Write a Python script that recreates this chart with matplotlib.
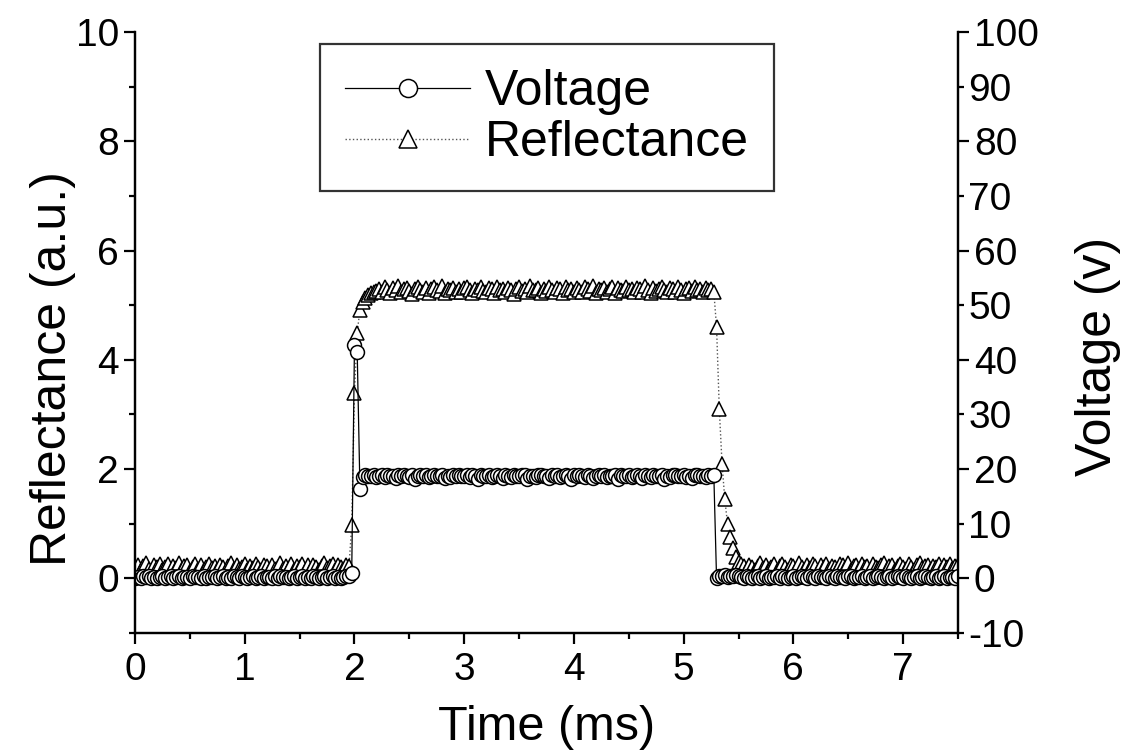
import numpy as np
import matplotlib
matplotlib.use("Agg")
import matplotlib.pyplot as plt
from matplotlib.ticker import MultipleLocator, FixedLocator

plt.rcParams["font.family"] = ["Liberation Sans", "DejaVu Sans"]

# sampling step of the scope trace (ms)
DT = 0.025

# reflectance (a.u.), left axis
refl_base = [
    0.20, 0.25, 0.15, 0.22, 0.28, 0.18, 0.12, 0.24, 0.20, 0.27,
    0.16, 0.21, 0.26, 0.14, 0.23, 0.19, 0.28, 0.17, 0.22, 0.25,
    0.13, 0.20, 0.26, 0.18, 0.24, 0.15, 0.21, 0.27, 0.19, 0.23,
    0.16, 0.25, 0.20, 0.14, 0.22, 0.28, 0.18, 0.24, 0.17, 0.21,
    0.26, 0.15, 0.23, 0.19, 0.27, 0.20, 0.16, 0.24, 0.22, 0.13,
    0.25, 0.18, 0.21, 0.28, 0.17, 0.23, 0.19, 0.26, 0.15, 0.22,
    0.20, 0.27, 0.14, 0.24, 0.18, 0.25, 0.21, 0.16, 0.23, 0.28,
    0.19, 0.22, 0.26, 0.15, 0.24, 0.20, 0.17, 0.25, 0.22,
]
refl_rise = [0.97, 3.40, 4.50, 4.92, 5.05, 5.13, 5.18, 5.22, 5.24, 5.26]
refl_on = [
    5.30, 5.25, 5.33, 5.28, 5.22, 5.31, 5.27, 5.35, 5.24, 5.29,
    5.32, 5.26, 5.21, 5.30, 5.34, 5.27, 5.25, 5.31, 5.23, 5.29,
    5.33, 5.28, 5.26, 5.35, 5.22, 5.30, 5.27, 5.32, 5.25, 5.29,
    5.24, 5.31, 5.34, 5.27, 5.22, 5.30, 5.28, 5.33, 5.26, 5.25,
    5.31, 5.29, 5.23, 5.34, 5.27, 5.30, 5.25, 5.32, 5.28, 5.21,
    5.29, 5.33, 5.26, 5.30, 5.24, 5.35, 5.28, 5.27, 5.31, 5.23,
    5.30, 5.26, 5.33, 5.28, 5.25, 5.32, 5.29, 5.22, 5.34, 5.27,
    5.30, 5.25, 5.31, 5.28, 5.24, 5.33, 5.29, 5.26, 5.35, 5.23,
    5.30, 5.27, 5.32, 5.25, 5.29, 5.34, 5.22, 5.31, 5.28, 5.26,
    5.33, 5.27, 5.30, 5.24, 5.32, 5.29, 5.25, 5.35, 5.28, 5.23,
    5.31, 5.26, 5.30, 5.33, 5.27, 5.24, 5.32, 5.29, 5.25, 5.34,
    5.28, 5.22, 5.30, 5.31, 5.26, 5.33, 5.27, 5.29, 5.24, 5.32,
    5.28, 5.30, 5.25,
]
refl_fall = [4.60, 3.10, 2.10, 1.45, 1.00, 0.75, 0.55, 0.40, 0.30]
refl_after = [
    0.27, 0.22, 0.18, 0.25, 0.20, 0.15, 0.23, 0.28, 0.19, 0.24,
    0.17, 0.21, 0.26, 0.14, 0.22, 0.27, 0.20, 0.16, 0.25, 0.23,
    0.18, 0.28, 0.21, 0.15, 0.24, 0.19, 0.26, 0.22, 0.13, 0.25,
    0.20, 0.27, 0.17, 0.23, 0.21, 0.16, 0.26, 0.24, 0.19, 0.28,
    0.15, 0.22, 0.25, 0.18, 0.27, 0.20, 0.23, 0.14, 0.26, 0.21,
    0.19, 0.24, 0.28, 0.17, 0.22, 0.25, 0.16, 0.23, 0.27, 0.20,
    0.18, 0.26, 0.21, 0.15, 0.24, 0.28, 0.19, 0.22, 0.25, 0.17,
    0.23, 0.20, 0.27, 0.16, 0.24, 0.21, 0.26, 0.18, 0.22, 0.25,
]

# applied voltage (V), right axis
volt_base = [
    0.1, 0.3, 0.0, 0.4, 0.2, 0.5, 0.1, 0.3, 0.0, 0.2,
    0.4, 0.1, 0.3, 0.5, 0.0, 0.2, 0.4, 0.1, 0.3, 0.2,
    0.0, 0.5, 0.2, 0.3, 0.1, 0.4, 0.0, 0.2, 0.3, 0.5,
    0.1, 0.2, 0.4, 0.0, 0.3, 0.1, 0.5, 0.2, 0.0, 0.4,
    0.3, 0.1, 0.2, 0.5, 0.0, 0.3, 0.4, 0.1, 0.2, 0.3,
    0.0, 0.4, 0.1, 0.5, 0.2, 0.3, 0.0, 0.2, 0.4, 0.1,
    0.3, 0.5, 0.0, 0.2, 0.1, 0.4, 0.3, 0.0, 0.2, 0.5,
    0.1, 0.3, 0.4, 0.0, 0.2, 0.1, 0.3, 0.5, 0.4,
]
volt_rise = [1.0, 42.7, 41.4, 16.3, 18.6, 18.9, 18.7, 18.8, 19.0, 18.6]
volt_on = [
    18.8, 18.9, 18.6, 19.0, 18.7, 18.8, 18.3, 18.9, 18.7, 19.0,
    18.8, 18.6, 18.9, 18.2, 18.8, 19.0, 18.7, 18.9, 18.6, 18.8,
    19.0, 18.7, 18.8, 18.9, 18.3, 18.8, 18.6, 19.0, 18.7, 18.9,
    18.8, 18.7, 19.0, 18.6, 18.9, 18.8, 18.2, 18.9, 18.7, 18.8,
    19.0, 18.6, 18.8, 18.9, 18.7, 18.3, 19.0, 18.8, 18.6, 18.9,
    18.7, 18.8, 19.0, 18.9, 18.2, 18.7, 18.8, 18.6, 19.0, 18.9,
    18.8, 18.7, 18.3, 18.9, 18.8, 19.0, 18.6, 18.7, 18.9, 18.8,
    18.2, 18.9, 18.7, 19.0, 18.8, 18.6, 18.9, 18.8, 18.3, 18.7,
    19.0, 18.8, 18.9, 18.6, 18.7, 18.8, 19.0, 18.2, 18.9, 18.8,
    18.7, 18.9, 18.6, 18.8, 19.0, 18.7, 18.3, 18.9, 18.8, 18.6,
    19.0, 18.8, 18.7, 18.9, 18.2, 18.8, 18.6, 19.0, 18.9, 18.7,
    18.8, 18.9, 18.6, 18.8, 18.3, 18.9, 19.0, 18.7, 18.8, 18.6,
    18.9, 18.8, 19.0,
]
volt_fall = [0.0, 0.5, 0.4, 0.6, 0.3, 0.5, 0.4, 0.6, 0.5]
volt_after = [
    0.3, 0.1, 0.4, 0.2, 0.0, 0.3, 0.5, 0.1, 0.2, 0.4,
    0.0, 0.3, 0.2, 0.5, 0.1, 0.4, 0.3, 0.0, 0.2, 0.5,
    0.1, 0.3, 0.4, 0.2, 0.0, 0.5, 0.3, 0.1, 0.4, 0.2,
    0.3, 0.0, 0.5, 0.2, 0.1, 0.4, 0.3, 0.2, 0.0, 0.5,
    0.4, 0.1, 0.3, 0.2, 0.5, 0.0, 0.3, 0.4, 0.1, 0.2,
    0.5, 0.3, 0.0, 0.2, 0.4, 0.1, 0.3, 0.5, 0.2, 0.0,
    0.4, 0.2, 0.1, 0.3, 0.5, 0.0, 0.2, 0.4, 0.3, 0.1,
    0.2, 0.5, 0.0, 0.3, 0.4, 0.1, 0.2, 0.3, 0.0, 0.4,
]

reflectance = np.array(refl_base + refl_rise + refl_on + refl_fall + refl_after)
voltage = np.array(volt_base + volt_rise + volt_on + volt_fall + volt_after)
time_ms = np.arange(len(reflectance)) * DT

fig = plt.figure(figsize=(11.27, 7.52), dpi=100)
ax = fig.add_axes([0.1198, 0.1582, 0.7302, 0.7992])
ax2 = ax.twinx()

l_refl, = ax.plot(time_ms, reflectance, linestyle=":", color="#555555", lw=1.0,
                  marker="^", ms=10.5, mfc="white", mec="black", mew=1.1)
l_volt, = ax2.plot(time_ms, voltage, linestyle="-", color="black", lw=0.9,
                   marker="o", ms=10, mfc="white", mec="black", mew=1.1)

ax.set_xlim(0, 7.5)
ax.set_ylim(-1, 10)
ax2.set_ylim(-10, 100)

ax.xaxis.set_major_locator(MultipleLocator(1))
ax.xaxis.set_minor_locator(MultipleLocator(0.5))
ax.yaxis.set_major_locator(FixedLocator([0, 2, 4, 6, 8, 10]))
ax.yaxis.set_minor_locator(FixedLocator([-1, 1, 3, 5, 7, 9]))
ax2.yaxis.set_major_locator(FixedLocator([0, 20, 40, 60, 80, 100]))
ax2.yaxis.set_minor_locator(FixedLocator([-10, 10, 30, 50, 70, 90]))
ax2.yaxis.set_minor_formatter(plt.FuncFormatter(lambda v, p: f"{v:.0f}"))

for a in (ax, ax2):
    a.spines["top"].set_visible(False)
    for s in a.spines.values():
        s.set_linewidth(1.6)
    a.tick_params(which="major", direction="out", length=8, width=1.6, labelsize=28)
    a.tick_params(which="minor", direction="out", length=4, width=1.6, labelsize=28)
ax.tick_params(axis="y", which="minor", labelleft=False)
ax.tick_params(axis="x", which="major", pad=6)

ax.set_xlabel("Time (ms)", fontsize=35, labelpad=12)
ax.set_ylabel("Reflectance (a.u.)", fontsize=36, labelpad=0, y=0.44)
ax2.set_ylabel("Voltage (v)", fontsize=36, labelpad=26, y=0.46)

leg = ax2.legend([l_volt, l_refl], ["Voltage", "Reflectance"], loc="upper left",
                 bbox_to_anchor=(0.225, 0.98), fontsize=36, frameon=True,
                 fancybox=False, edgecolor="black", handlelength=2.5,
                 markerscale=1.3, borderpad=0.5, labelspacing=0.1,
                 handletextpad=0.3, borderaxespad=0)
leg.get_frame().set_linewidth(1.6)

fig.savefig("out.png", dpi=100)
